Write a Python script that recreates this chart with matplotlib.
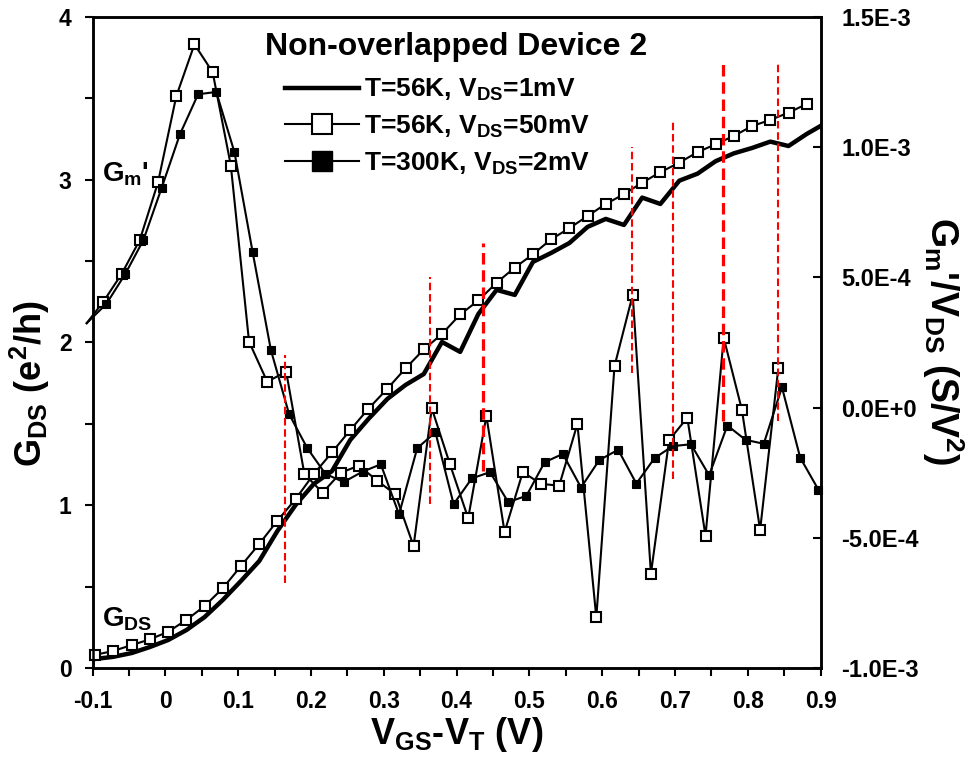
import matplotlib
matplotlib.use('Agg')
import matplotlib.pyplot as plt
from matplotlib.lines import Line2D
from matplotlib.ticker import MultipleLocator

# ---- data ----
# G_DS vs VGS-VT, T=56K, VDS=50mV (open squares), left axis, e^2/h
vgs_gds = [-0.097, -0.072, -0.046, -0.021, 0.004, 0.029, 0.054, 0.079, 0.104, 0.129,
           0.154, 0.179, 0.204, 0.229, 0.254, 0.279, 0.305, 0.330, 0.355, 0.380,
           0.405, 0.430, 0.455, 0.480, 0.505, 0.530, 0.555, 0.580, 0.605, 0.630,
           0.655, 0.680, 0.706, 0.731, 0.756, 0.781, 0.806, 0.831, 0.856, 0.881]
gds_50mv = [0.080, 0.104, 0.141, 0.176, 0.223, 0.295, 0.381, 0.490, 0.627, 0.762,
            0.905, 1.038, 1.192, 1.325, 1.462, 1.593, 1.716, 1.841, 1.957, 2.052,
            2.172, 2.258, 2.367, 2.460, 2.542, 2.634, 2.702, 2.777, 2.851, 2.911,
            2.982, 3.046, 3.105, 3.169, 3.218, 3.269, 3.330, 3.367, 3.412, 3.465]

# G_DS, T=56K, VDS=1mV (thick line)
vgs_gds_1mv = [-0.097, -0.072, -0.046, -0.021, 0.004, 0.029, 0.054, 0.079, 0.104, 0.129,
               0.154, 0.179, 0.204, 0.229, 0.254, 0.279, 0.305, 0.330, 0.355, 0.380,
               0.405, 0.430, 0.455, 0.480, 0.505, 0.530, 0.555, 0.580, 0.605, 0.630,
               0.655, 0.680, 0.706, 0.731, 0.756, 0.781, 0.806, 0.831, 0.856, 0.881, 0.900]
gds_1mv = [0.055, 0.068, 0.092, 0.129, 0.172, 0.233, 0.313, 0.418, 0.535, 0.657,
           0.842, 1.002, 1.131, 1.210, 1.401, 1.530, 1.653, 1.739, 1.806, 2.003,
           1.942, 2.175, 2.323, 2.292, 2.495, 2.550, 2.611, 2.710, 2.759, 2.722,
           2.890, 2.851, 2.994, 3.037, 3.114, 3.162, 3.195, 3.234, 3.207, 3.281, 3.330]

# Gm'/VDS, right axis, in units of 1e-4 S/V^2
vgs_gm_50mv = [-0.108, -0.085, -0.060, -0.035, -0.010, 0.015, 0.040, 0.065, 0.090, 0.115,
               0.140, 0.166, 0.191, 0.216, 0.241, 0.266, 0.291, 0.316, 0.341, 0.366,
               0.391, 0.416, 0.441, 0.466, 0.491, 0.516, 0.541, 0.566, 0.592, 0.617,
               0.642, 0.667, 0.692, 0.717, 0.742, 0.767, 0.792, 0.817, 0.842]
gm_50mv_e4 = [3.24, 4.07, 5.13, 6.44, 8.65, 11.95, 13.95, 12.88, 9.29, 2.53,
              0.99, 1.38, -2.55, -3.27, -2.50, -2.23, -2.81, -3.33, -5.32, -0.03,
              -2.18, -4.25, -0.32, -4.78, -2.48, -2.93, -3.00, -0.63, -8.06, 1.59,
              4.33, -6.38, -1.25, -0.39, -4.93, 2.68, -0.09, -4.70, 1.52]

vgs_gm_2mv = [-0.108, -0.081, -0.055, -0.030, -0.005, 0.020, 0.045, 0.070, 0.095, 0.120,
              0.145, 0.170, 0.195, 0.220, 0.245, 0.271, 0.296, 0.321, 0.346, 0.371,
              0.396, 0.421, 0.446, 0.471, 0.496, 0.521, 0.546, 0.571, 0.596, 0.622,
              0.647, 0.672, 0.697, 0.722, 0.747, 0.772, 0.797, 0.822, 0.847, 0.872, 0.897]
gm_2mv_e4 = [3.24, 3.98, 5.13, 6.44, 8.44, 10.49, 12.03, 12.12, 9.80, 5.96,
             2.21, -0.25, -1.56, -2.55, -2.86, -2.46, -2.18, -4.10, -1.56, -0.95,
             -3.71, -2.72, -2.48, -3.63, -3.39, -2.10, -1.78, -3.07, -2.02, -1.62,
             -2.92, -1.94, -1.48, -1.41, -2.60, -0.69, -1.24, -1.39, 0.78, -1.92, -3.15]

# red dashed markers (x position, lower / upper end in G_DS units)
dash_x = [0.165, 0.364, 0.437, 0.641, 0.698, 0.766, 0.842]
dash_lo = [0.52, 1.01, 1.21, 1.81, 1.16, 1.52, 1.52]
dash_hi = [1.92, 2.40, 2.61, 3.20, 3.36, 3.72, 3.72]

legend_labels = ['T=56K, V$_{\\rm DS}$=1mV',
                 'T=56K, V$_{\\rm DS}$=50mV',
                 'T=300K, V$_{\\rm DS}$=2mV']
x_ticks = [-0.1, 0, 0.1, 0.2, 0.3, 0.4, 0.5, 0.6, 0.7, 0.8, 0.9]
x_tick_labels = ['-0.1', '0', '0.1', '0.2', '0.3', '0.4', '0.5', '0.6', '0.7', '0.8', '0.9']
right_ticks = [-10, -5, 0, 5, 10, 15]
right_tick_labels = ['-1.0E-3', '-5.0E-4', '0.0E+0', '5.0E-4', '1.0E-3', '1.5E-3']

# ---- style ----
plt.rcParams['font.family'] = 'Liberation Sans'
plt.rcParams['font.weight'] = 'bold'
plt.rcParams['axes.labelweight'] = 'bold'
plt.rcParams['mathtext.fontset'] = 'custom'
plt.rcParams['mathtext.rm'] = 'Liberation Sans:bold'
plt.rcParams['mathtext.it'] = 'Liberation Sans:bold'
plt.rcParams['mathtext.bf'] = 'Liberation Sans:bold'
plt.rcParams['mathtext.sf'] = 'Liberation Sans:bold'

DASH_WIDTHS = [1.5, 1.5, 2.3, 1.5, 1.5, 2.3, 1.5]

fig = plt.figure(figsize=(9.78, 7.6), dpi=100)
ax = fig.add_axes([0.0946, 0.1211, 0.7444, 0.8566])
ax2 = ax.twinx()
ax.set_zorder(ax2.get_zorder() + 1)
ax.patch.set_visible(False)

# Gm' curves on right axis
ax2.plot(vgs_gm_50mv, gm_50mv_e4, color='black', lw=1.5, marker='s', ms=7.5,
         mfc='white', mec='black', mew=1.5, markevery=slice(1, None), clip_on=False)
ax2.plot(vgs_gm_2mv, gm_2mv_e4, color='black', lw=1.5, marker='s', ms=5.2,
         mfc='black', mec='black', mew=0.8, markevery=slice(1, None), clip_on=False)

# G_DS curves on left axis
ax.plot(vgs_gds_1mv, gds_1mv, color='black', lw=3.2)
ax.plot(vgs_gds, gds_50mv, color='black', lw=1.5, marker='s', ms=7.5,
        mfc='white', mec='black', mew=1.5, clip_on=False)

for x, lo, hi, w in zip(dash_x, dash_lo, dash_hi, DASH_WIDTHS):
    ax.plot([x, x], [lo, hi], color='#ff0000', lw=w, dashes=(3.6, 1.8), zorder=6)

# axes
ax.set_xlim(-0.1, 0.9)
ax.set_ylim(0, 4)
ax2.set_ylim(-10, 15)
ax.set_xticks(x_ticks, x_tick_labels)
ax.xaxis.set_minor_locator(MultipleLocator(0.05))
ax.set_yticks([0, 1, 2, 3, 4])
ax.yaxis.set_minor_locator(MultipleLocator(0.5))
ax2.set_yticks(right_ticks, right_tick_labels)

ax.tick_params(axis='x', which='both', direction='out', length=6, width=1.5,
               labelsize=16.5, pad=10, top=False)
ax.tick_params(axis='y', which='both', direction='out', length=6, width=1.5,
               labelsize=16.5, pad=9, right=False)
ax2.tick_params(axis='y', which='both', direction='in', length=5.5, width=1.5,
                labelsize=17, pad=15)
for a in (ax, ax2):
    for s in a.spines.values():
        s.set_linewidth(1.8)

ax.set_xlabel('V$_{\\rm GS}$-V$_{\\rm T}$ (V)', fontsize=26)
ax.xaxis.set_label_coords(0.5, -0.072)
ax.set_ylabel('G$_{\\rm DS}$ (e$^{\\rm 2}$/h)', fontsize=26)
ax.yaxis.set_label_coords(-0.056, 0.436)
ax2.set_ylabel("G$_{\\rm m}$'/V$_{\\rm DS}$ (S/V$^{\\rm 2}$)", fontsize=27,
               rotation=270, va='bottom')
ax2.yaxis.set_label_coords(1.137, 0.502)

ax.text(0.499, 0.9416, 'Non-overlapped Device 2', transform=ax.transAxes,
        ha='center', va='baseline', fontsize=23)
ax.text(-0.0874, 2.988, "G$_{\\rm m}$'", fontsize=20, va='baseline')
ax.text(-0.0874, 0.254, 'G$_{\\rm DS}$', fontsize=20, va='baseline')

handles = [Line2D([], [], color='black', lw=3.2),
           Line2D([], [], color='black', lw=1.5, marker='s', ms=14, mfc='white',
                  mec='black', mew=1.5),
           Line2D([], [], color='black', lw=1.5, marker='s', ms=14, mfc='black',
                  mec='black')]
ax.legend(handles, legend_labels, loc='upper left', bbox_to_anchor=(0.264, 0.908),
          frameon=False, fontsize=19, handlelength=2.8, handletextpad=0.2,
          labelspacing=0.4, borderpad=0, borderaxespad=0)

fig.savefig('out.png', dpi=100)
